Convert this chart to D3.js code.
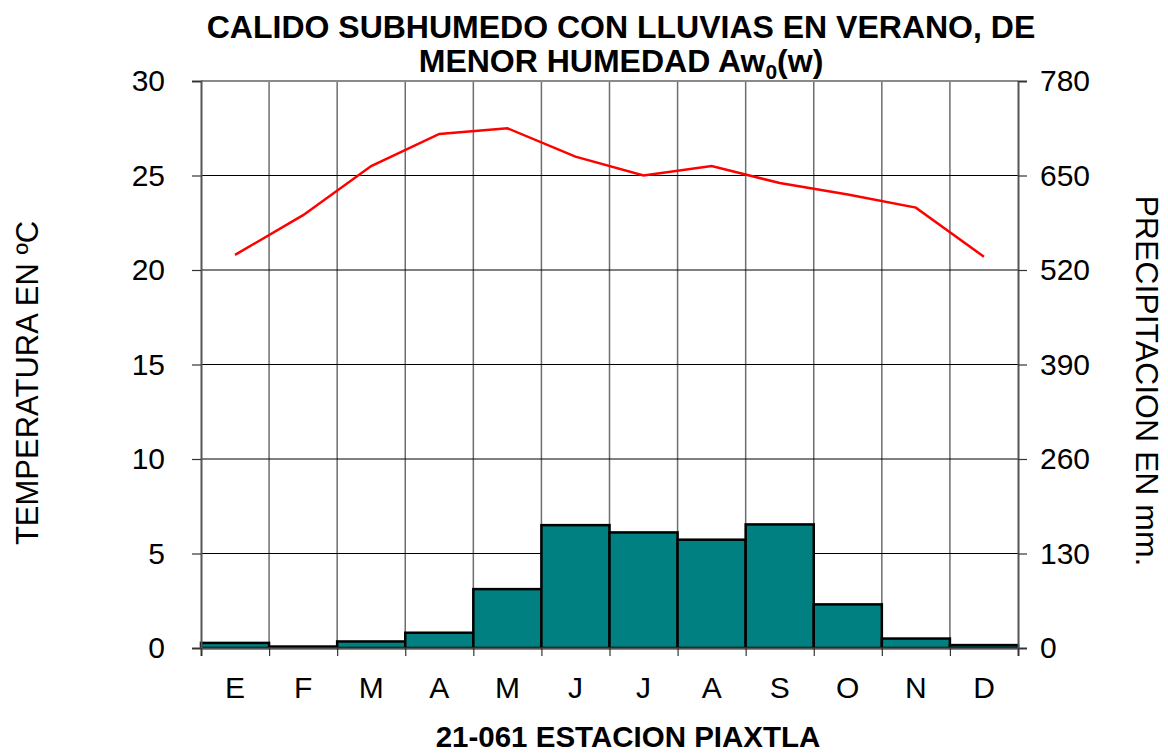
<!DOCTYPE html>
<html>
<head>
  <meta charset="utf-8">
  <style>
    body { margin: 0; background: #fff; }
    svg text { font-family: "Liberation Sans", Arial, sans-serif; }
  </style>
  <title>Calido subhumedo - Piaxtla</title>
</head>
<body>
  <script src="https://cdn.jsdelivr.net/npm/d3@7"></script>
  <script>
    // month labels and climate values
    var months = ["E", "F", "M", "A", "M", "J", "J", "A", "S", "O", "N", "D"];
    var temperature = [20.8, 22.9, 25.5, 27.2, 27.5, 26.0, 25.0, 25.5, 24.6, 24.0, 23.3, 20.7];
    var precipitation = [7, 2, 9, 21, 81, 169, 159, 149, 170, 60, 13, 4];
    var tempTicks = [0, 5, 10, 15, 20, 25, 30];
    var precTicks = [0, 130, 260, 390, 520, 650, 780];

    var width = 1168, height = 754;
    var mLeft = 201, mRight = 1018, mTop = 81, mBottom = 648;

    var svg = d3.select("body").append("svg").attr("width", width).attr("height", height);

    var idx = d3.range(months.length);
    var x = d3.scaleBand().domain(idx).range([mLeft, mRight]).padding(0);
    var xEdge = d3.scaleLinear().domain([0, months.length]).range([mLeft, mRight]);
    var yT = d3.scaleLinear().domain([0, 30]).range([mBottom, mTop]);
    var yP = d3.scaleLinear().domain([0, 780]).range([mBottom, mTop]);

    // grid
    svg.append("g").selectAll("line").data(d3.range(1, months.length)).enter().append("line")
      .attr("x1", function(d) { return xEdge(d); }).attr("x2", function(d) { return xEdge(d); })
      .attr("y1", mTop).attr("y2", mBottom)
      .attr("stroke", "#6e6e6e").attr("stroke-width", 1.5);
    svg.append("g").selectAll("line").data([5, 10, 15, 20, 25]).enter().append("line")
      .attr("x1", mLeft).attr("x2", mRight)
      .attr("y1", function(d) { return yT(d); }).attr("y2", function(d) { return yT(d); })
      .attr("stroke", "#000").attr("stroke-width", 1);
    svg.append("line").attr("x1", mLeft).attr("x2", mRight).attr("y1", mTop).attr("y2", mTop)
      .attr("stroke", "#8a8a8a").attr("stroke-width", 2);

    // precipitation bars
    svg.append("g").selectAll("rect").data(precipitation).enter().append("rect")
      .attr("x", function(d, i) { return x(i); })
      .attr("y", function(d) { return yP(d); })
      .attr("width", x.bandwidth())
      .attr("height", function(d) { return mBottom - yP(d); })
      .attr("fill", "#008080").attr("stroke", "#000").attr("stroke-width", 2.5);

    // temperature line
    var line = d3.line()
      .x(function(d, i) { return x(i) + x.bandwidth() / 2; })
      .y(function(d) { return yT(d); });
    svg.append("path").datum(temperature).attr("d", line)
      .attr("fill", "none").attr("stroke", "#ff0000").attr("stroke-width", 2.5);

    // axes
    var yAxisL = d3.axisLeft(yT).tickValues(tempTicks).tickSize(9).tickPadding(27);
    var gl = svg.append("g").attr("transform", "translate(" + mLeft + ",0)").call(yAxisL);
    var yAxisR = d3.axisRight(yP).tickValues(precTicks).tickSize(9).tickPadding(13);
    var gr = svg.append("g").attr("transform", "translate(" + mRight + ",0)").call(yAxisR);
    var xTicks = d3.axisBottom(xEdge).tickValues(d3.range(0, months.length + 1)).tickSize(8).tickFormat("");
    var gx = svg.append("g").attr("transform", "translate(0," + mBottom + ")").call(xTicks);
    var xLabels = d3.axisBottom(x).tickSize(0).tickPadding(29).tickFormat(function(i) { return months[i]; });
    var gxl = svg.append("g").attr("transform", "translate(0," + mBottom + ")").call(xLabels);
    gxl.select(".domain").remove();

    [gl, gr, gx].forEach(function(g) {
      g.select(".domain").attr("stroke", "#555").attr("stroke-width", 2);
      g.selectAll(".tick line").attr("stroke", "#333").attr("stroke-width", 1.2);
    });
    [gl, gr, gxl].forEach(function(g) {
      g.selectAll("text").attr("font-size", "30px").attr("fill", "#000")
        .style("font-family", "'Liberation Sans', Arial, sans-serif");
    });

    // title
    var title = svg.append("text").attr("text-anchor", "middle")
      .attr("font-size", "32px").attr("font-weight", "bold");
    title.append("tspan").attr("x", 621).attr("y", 38).text("CALIDO SUBHUMEDO CON LLUVIAS EN VERANO, DE");
    var l2 = title.append("tspan").attr("x", 621).attr("y", 72);
    l2.append("tspan").text("MENOR HUMEDAD Aw");
    l2.append("tspan").attr("dy", 7).attr("font-size", "21px").text("0");
    l2.append("tspan").attr("dy", -7).text("(w)");

    // axis titles
    svg.append("text").attr("text-anchor", "middle").attr("font-size", "31px")
      .attr("transform", "translate(38,383) rotate(-90)").text("TEMPERATURA EN ºC");
    svg.append("text").attr("text-anchor", "middle").attr("font-size", "32px")
      .attr("transform", "translate(1136,381) rotate(90)").text("PRECIPITACION EN mm.");

    svg.append("text").attr("x", 628).attr("y", 747).attr("text-anchor", "middle")
      .attr("font-size", "29.5px").attr("font-weight", "bold").text("21-061 ESTACION PIAXTLA");
  </script>
</body>
</html>
